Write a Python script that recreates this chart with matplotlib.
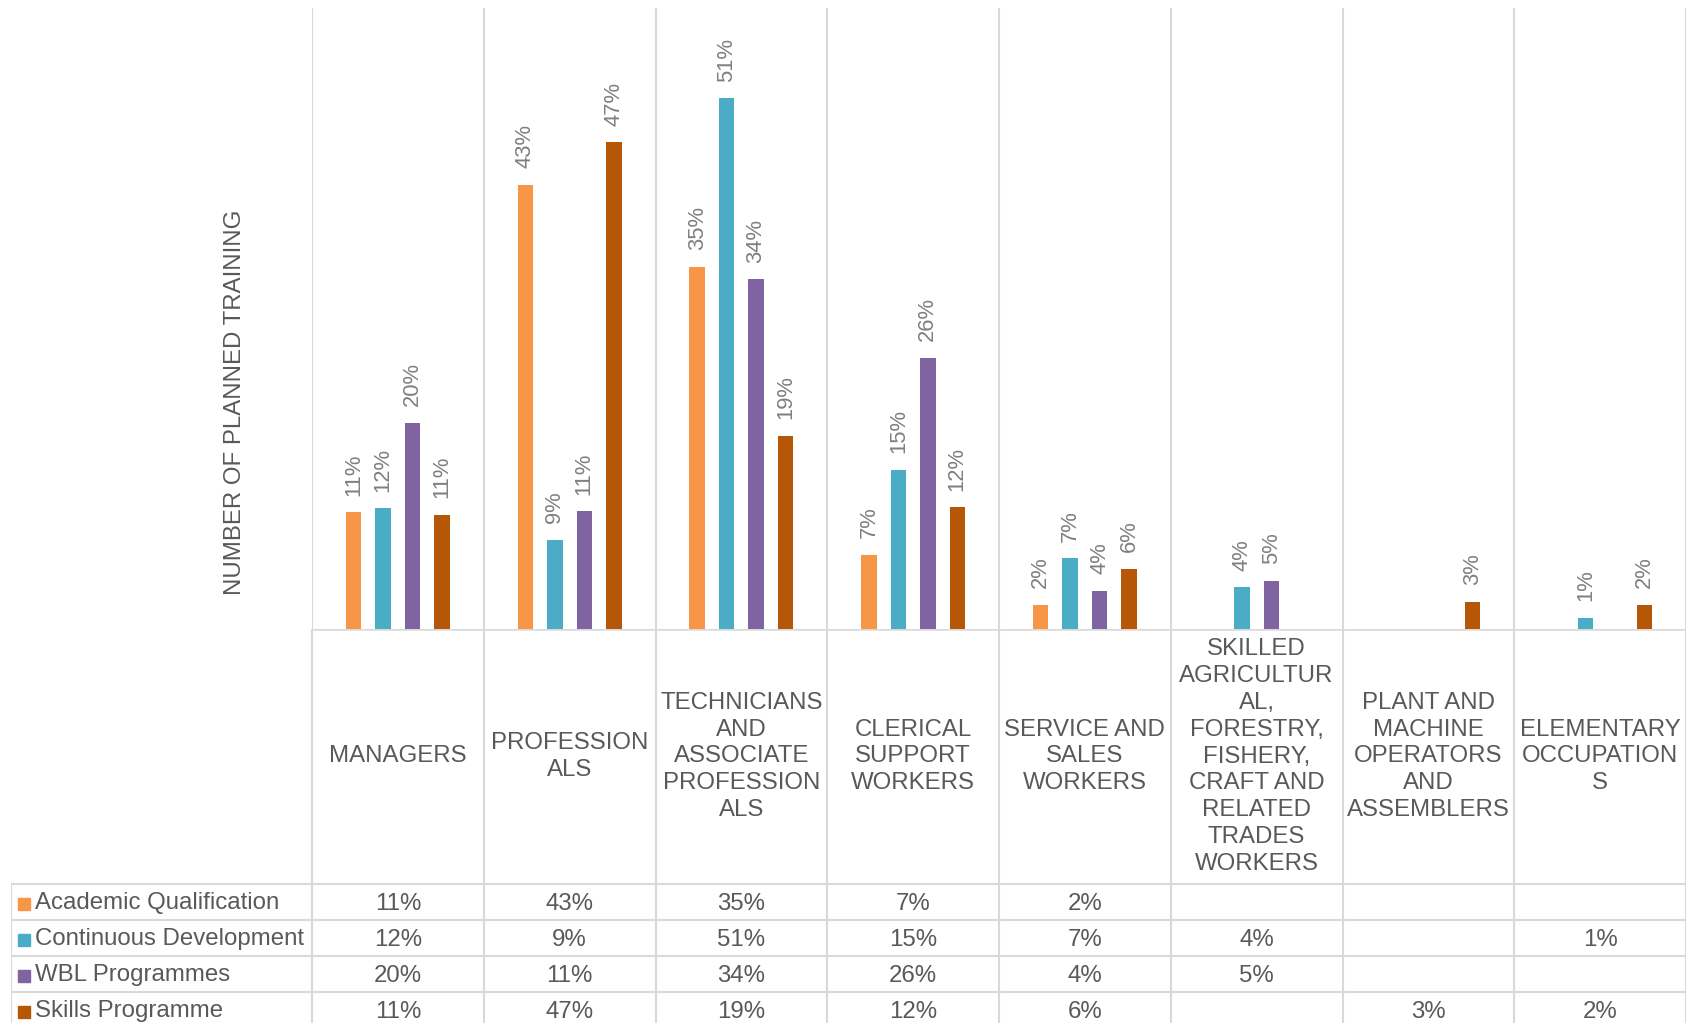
import numpy as np
import matplotlib.pyplot as plt

plt.rcParams['font.family'] = ['Liberation Sans', 'DejaVu Sans']

categories = ['MANAGERS', 'PROFESSION\nALS',
              'TECHNICIANS\nAND\nASSOCIATE\nPROFESSION\nALS',
              'CLERICAL\nSUPPORT\nWORKERS', 'SERVICE AND\nSALES\nWORKERS',
              'SKILLED\nAGRICULTUR\nAL,\nFORESTRY,\nFISHERY,\nCRAFT AND\nRELATED\nTRADES\nWORKERS',
              'PLANT AND\nMACHINE\nOPERATORS\nAND\nASSEMBLERS',
              'ELEMENTARY\nOCCUPATION\nS']
series = ['Academic Qualification', 'Continuous Development', 'WBL Programmes', 'Skills Programme']
nan = np.nan
academic = [11.2, 42.7, 34.8, 7.1, 2.3, nan, nan, nan]
continuous = [11.6, 8.6, 51.0, 15.3, 6.8, 4.0, nan, 1.1]
wbl = [19.8, 11.3, 33.6, 26.1, 3.7, 4.6, nan, nan]
skills = [11.0, 46.8, 18.6, 11.7, 5.8, nan, 2.6, 2.3]
colors = ['#F79646', '#4BACC6', '#8064A2', '#B65708']

values = [academic, continuous, wbl, skills]
grid_c = '#D9D9D9'
text_c = '#595959'

W, H = 1692, 1023
fig = plt.figure(figsize=(W / 100, H / 100), dpi=100)

# plot area
x0, x1, ybase, ytop = 312, 1686, 629, 8
ax = fig.add_axes([x0 / W, (H - ybase) / H, (x1 - x0) / W, (ybase - ytop) / H])
ax.set_xlim(-0.5, 7.5)
ax.set_ylim(0, 59.7)
ax.axis('off')

n = len(categories)
x = np.arange(n)
step, wd = 0.1716, 0.09
for j, (name, vals) in enumerate(zip(series, values)):
    xs = x + (j - 1.5) * step
    v = np.array(vals, dtype=float)
    ax.bar(xs, np.nan_to_num(v), width=wd, color=colors[j], zorder=3)
    for xi, vi in zip(xs, v):
        if np.isnan(vi):
            continue
        ax.annotate(f"{vi:.0f}%", (xi, vi), xytext=(0, 12), textcoords='offset points',
                    rotation=90, ha='center', va='bottom', fontsize=15.8, color='#7F7F7F')

ax.vlines(np.arange(n + 1) - 0.5, 0, 59.7, colors=grid_c, lw=1.5, zorder=1)

# data table under the chart
cat_w = (x1 - x0) / n
leg_w = (x0 - 11) / cat_w
tax = fig.add_axes([11 / W, 0, (x1 - 11) / W, (H - ybase) / H])
tax.set_xlim(-0.5 - leg_w, n - 0.5)
tax.set_ylim(H - ybase, 0)
tax.axis('off')

head_h, row_h = 255, 36
tax.hlines(0, -0.5, n - 0.5, colors=grid_c, lw=1.8)
rows_y = head_h + row_h * np.arange(len(series) + 1)
tax.hlines(rows_y, -0.5 - leg_w, n - 0.5, colors=grid_c, lw=1.5)
tax.vlines(np.arange(n + 1) - 0.5, 0, H - ybase, colors=grid_c, lw=1.5)
tax.vlines(-0.5 - leg_w, head_h, H - ybase, colors=grid_c, lw=1.5)

for i, cat in enumerate(categories):
    tax.text(i, head_h / 2, cat, ha='center', va='center', multialignment='center',
             fontsize=17.3, color=text_c, linespacing=1.28)

for j, (name, vals) in enumerate(zip(series, values)):
    yc = head_h + row_h * (j + 0.5) + 1.5
    tax.plot(-0.5 - leg_w + 13 / cat_w, yc, marker='s', ms=8.5, color=colors[j], ls='none')
    tax.text(-0.5 - leg_w + 24 / cat_w, yc, name, ha='left', va='center',
             fontsize=17.3, color=text_c)
    for i, v in enumerate(vals):
        if not np.isnan(v):
            tax.text(i, yc, f"{v:.0f}%", ha='center', va='center', fontsize=17.3, color=text_c)

fig.text(235 / W, 1 - 402 / H, 'NUMBER OF PLANNED TRAINING', rotation=90,
         ha='center', va='center', fontsize=17.3, color=text_c)

fig.savefig('out.png', dpi=100)
